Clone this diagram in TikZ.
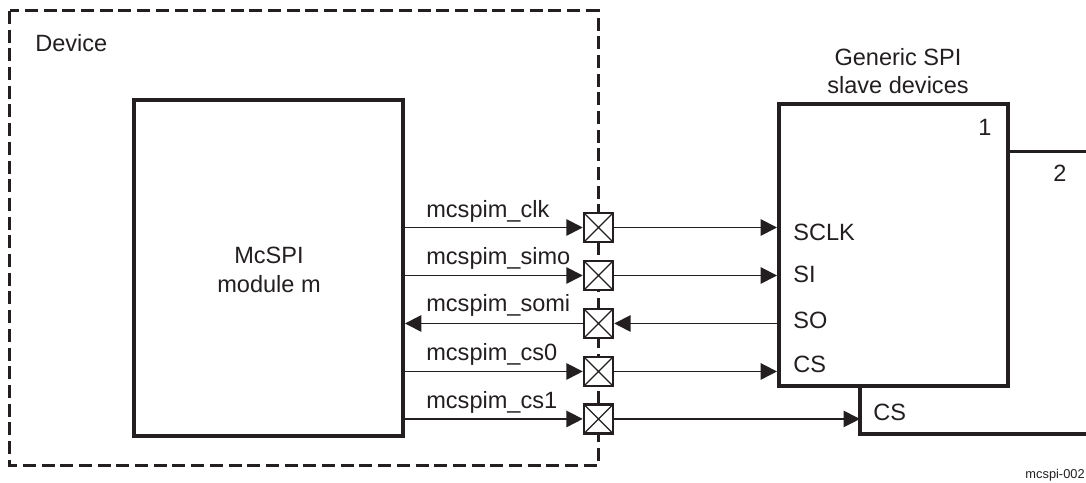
\documentclass[tikz,border=0pt]{standalone}
\usepackage{fontspec}
\setmainfont{Liberation Sans}
\usepackage{xcolor}
\usepackage{tikz}
\usetikzlibrary{arrows.meta, positioning}
\definecolor{inkdark}{HTML}{231F20}
\tikzstyle{module} = [rectangle, draw=inkdark, line width=0.08cm, fill=white]
\tikzstyle{pad} = [rectangle, draw=inkdark, line width=0.05cm, fill=white, minimum size=0.58cm, inner sep=0pt,
  path picture={\draw [inkdark, line width=0.025cm] (path picture bounding box.north west) -- (path picture bounding box.south east)
  (path picture bounding box.south west) -- (path picture bounding box.north east);}]
\tikzstyle{arrow} = [inkdark, line width=0.035cm, -{Triangle[length=0.33cm, width=0.33cm]}]
\tikzstyle{label} = [anchor=base west, inner sep=0pt, text=inkdark, font=\fontsize{13.4}{16.4}\selectfont]
\tikzstyle{small} = [anchor=base east, inner sep=0pt, text=inkdark, font=\fontsize{7.3}{9}\selectfont]

\begin{document}
\begin{tikzpicture}[x=0.02cm, y=-0.02cm]
    \useasboundingbox (0,0) rectangle (1086,483);

    % Device
    \draw [inkdark, line width=0.06cm, dash pattern=on 0.26cm off 0.114cm] (9.5,11) rectangle (598,465);
    \node (device) [label] at (35,52) {Device};

    % Module
    \node (mcspi) [module, minimum width=5.38cm, minimum height=6.72cm] at (268.5,268) {};
    \node (mcspitext) [label, anchor=center, align=center] at (269,269.5) {McSPI\\module m};

    % Pads
    \node (padclk) [pad] at (598.5,227.5) {};
    \node (padsimo) [pad, below=0.33cm of padclk] {};
    \node (padsomi) [pad, below=0.33cm of padsimo] {};
    \node (padcsa) [pad, below=0.33cm of padsomi] {};
    \node (padcsb) [pad, below=0.32cm of padcsa] {};

    % Slave devices
    \coordinate (twoend) at (1090,152);
    \coordinate (twocorner) at (860,386);
    \coordinate (twolow) at (860,434);
    \coordinate (twoout) at (1090,434);
    \draw [inkdark, line width=0.06cm] (1008,152) -- (twoend);
    \draw [inkdark, line width=0.08cm] (twocorner) -- (twolow) -- (twoout);
    \node (slave) [module, minimum width=4.58cm, minimum height=5.64cm] at (893.5,245) {};
    \node (slavetitle) [label, anchor=center, align=center] at (898,71) {Generic SPI\\slave devices};

    % Labels
    \node (lblclk) [label] at (426,217) {mcspim\_clk};
    \node (lblsimo) [label] at (426,264) {mcspim\_simo};
    \node (lblsomi) [label] at (426,311) {mcspim\_somi};
    \node (lblcsa) [label] at (426,360) {mcspim\_cs0};
    \node (lblcsb) [label] at (426,408) {mcspim\_cs1};
    \node (lblsclk) [label] at (793,240.5) {SCLK};
    \node (lblsi) [label] at (793,282) {SI};
    \node (lblso) [label] at (793,328) {SO};
    \node (lblcs) [label] at (793,372) {CS};
    \node (lbltwocs) [label] at (873,420) {CS};
    \node (lblone) [label] at (978,136) {1};
    \node (lbltwo) [label] at (1053,182) {2};
    \node (figid) [small] at (1085,478) {mcspi-002};

    % Arrows
    \draw [arrow] (mcspi.east |- padclk.west) -- (padclk.west);
    \draw [arrow] (mcspi.east |- padsimo.west) -- (padsimo.west);
    \draw [arrow] (padsomi.west) -- (mcspi.east |- padsomi.west);
    \draw [arrow] (mcspi.east |- padcsa.west) -- (padcsa.west);
    \draw [arrow] (mcspi.east |- padcsb.west) -- (padcsb.west);
    \draw [arrow] (padclk.east) -- (slave.west |- padclk.east);
    \draw [arrow] (padsimo.east) -- (slave.west |- padsimo.east);
    \draw [arrow] (slave.west |- padsomi.east) -- (padsomi.east);
    \draw [arrow] (padcsa.east) -- (slave.west |- padcsa.east);
    \draw [arrow, line width=0.025cm] (padcsb.east) -- (twocorner |- padcsb.east);
\end{tikzpicture}
\end{document}
